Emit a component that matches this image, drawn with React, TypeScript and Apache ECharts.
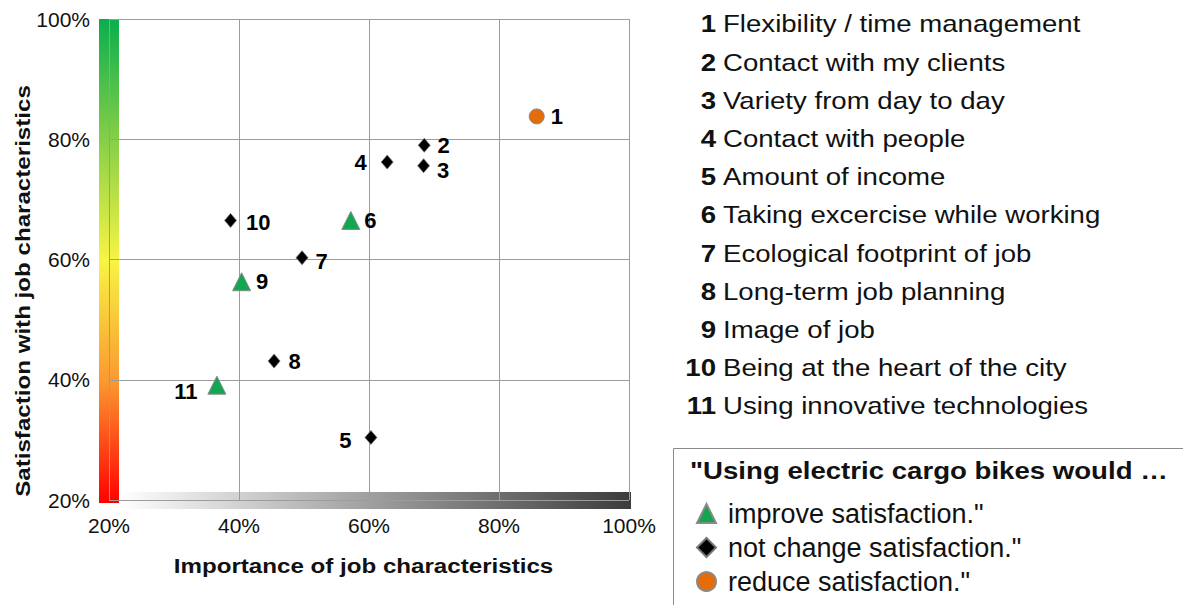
import React, { useEffect, useRef } from "react";
import * as echarts from "echarts";

const FONT = "'Liberation Sans', Arial, Helvetica, sans-serif";
// the typeface is set slightly wide
const WIDE = 1.15;

// Job characteristics, numbered 1..11
const characteristics = [
  "Flexibility / time management",
  "Contact with my clients",
  "Variety from day to day",
  "Contact with people",
  "Amount of income",
  "Taking excercise while working",
  "Ecological footprint of job",
  "Long-term job planning",
  "Image of job",
  "Being at the heart of the city",
  "Using innovative technologies",
];

// [importance %, satisfaction %, item number]
const improvePoints = [
  [57.2, 66.5, 6],
  [40.4, 56.3, 9],
  [36.6, 39.1, 11],
];
const unchangedPoints = [
  [68.5, 79.0, 2],
  [68.4, 75.6, 3],
  [62.8, 76.2, 4],
  [60.3, 30.4, 5],
  [49.7, 60.3, 7],
  [45.4, 43.1, 8],
  [38.7, 66.5, 10],
];
const reducePoints = [[85.8, 83.8, 1]];

const axisMin = 20;
const axisMax = 100;
const axisStep = 20;

const seriesNames = [
  'improve satisfaction."',
  'not change satisfaction."',
  'reduce satisfaction."',
];
const legendTitle = '"Using electric cargo bikes would \u2026';
const xTitle = "Importance of job characteristics";
const yTitle = "Satisfaction with job characteristics";

// where each number label sits next to its marker
const labelPlacement: Record<number, { position: string; distance: number; dy: number }> = {
  1: { position: "right", distance: 6, dy: 0 },
  2: { position: "right", distance: 7, dy: 0 },
  3: { position: "right", distance: 7, dy: 5 },
  4: { position: "left", distance: 14, dy: 0 },
  5: { position: "left", distance: 13, dy: 3 },
  6: { position: "right", distance: 4, dy: 0 },
  7: { position: "right", distance: 7, dy: 4 },
  8: { position: "right", distance: 8, dy: 0 },
  9: { position: "right", distance: 5, dy: 0 },
  10: { position: "right", distance: 9, dy: 2 },
  11: { position: "left", distance: 10, dy: 6 },
};

const toData = (pts: number[][]) =>
  pts.map((p) => {
    const lp = labelPlacement[p[2]];
    return {
      value: p,
      label: { position: lp.position, distance: lp.distance, offset: [0, lp.dy] },
    };
  });

const numberLabel = {
  show: true,
  formatter: (p: any) => String(p.value[2]),
  fontFamily: FONT,
  fontSize: 22,
  fontWeight: "bold",
  color: "#000",
};

const wideText = (
  text: string,
  x: number,
  y: number,
  fontSize: number,
  bold: boolean,
  align: string,
  rotation = 0
) => ({
  type: "text",
  x,
  y,
  rotation,
  scaleX: WIDE,
  style: {
    text,
    align,
    verticalAlign: "middle",
    fontFamily: FONT,
    fontSize,
    fontWeight: bold ? "bold" : "normal",
    fill: "#111",
  },
});

export default function App() {
  const ref = useRef<HTMLDivElement>(null);

  useEffect(() => {
    if (!ref.current) return;
    const chart = echarts.init(ref.current, undefined, { renderer: "svg" });

    const axisCommon = {
      type: "value",
      min: axisMin,
      max: axisMax,
      interval: axisStep,
      axisLine: { show: false },
      axisTick: { show: false },
      splitLine: { show: true, lineStyle: { color: "#9c9c9c", width: 1 } },
      axisLabel: {
        formatter: "{value}%",
        fontFamily: FONT,
        fontSize: 21,
        color: "#111",
      },
    };

    chart.setOption({
      animation: false,
      grid: { left: 109, right: 554, top: 19, bottom: 105, containLabel: false },
      xAxis: { ...axisCommon, axisLabel: { ...axisCommon.axisLabel, margin: 15 } },
      yAxis: { ...axisCommon, axisLabel: { ...axisCommon.axisLabel, margin: 19 } },
      legend: {
        orient: "vertical",
        left: 691,
        top: 495,
        itemWidth: 19,
        itemHeight: 19,
        itemGap: 7,
        data: seriesNames,
        textStyle: {
          fontFamily: FONT,
          fontSize: 27,
          color: "#111",
          padding: [0, 0, 0, 7],
        },
      },
      series: [
        {
          name: seriesNames[0],
          type: "scatter",
          symbol: "triangle",
          symbolSize: 18,
          itemStyle: { color: "#12a650", borderColor: "#8a8a8a", borderWidth: 1, opacity: 1 },
          label: numberLabel,
          data: toData(improvePoints),
          z: 3,
        },
        {
          name: seriesNames[1],
          type: "scatter",
          symbol: "diamond",
          symbolSize: [12, 14],
          itemStyle: { color: "#000000", borderColor: "#777777", borderWidth: 0.8, opacity: 1 },
          label: numberLabel,
          data: toData(unchangedPoints),
          z: 3,
        },
        {
          name: seriesNames[2],
          type: "scatter",
          symbol: "circle",
          symbolSize: 15,
          itemStyle: { color: "#e46c0a", borderColor: "#8a8a8a", borderWidth: 1, opacity: 1 },
          label: numberLabel,
          data: toData(reducePoints),
          z: 3,
        },
      ],
    });

    const [xLo, yLo] = chart.convertToPixel({ gridIndex: 0 }, [axisMin, axisMin]) as number[];
    const [xHi, yHi] = chart.convertToPixel({ gridIndex: 0 }, [axisMax, axisMax]) as number[];

    const listTop = 24;
    const listStep = 38.2;
    const listItems: any[] = [];
    characteristics.forEach((name, i) => {
      const y = listTop + i * listStep;
      listItems.push(wideText(String(i + 1), 716, y, 24, true, "right"));
      listItems.push(wideText(name, 723, y, 24, false, "left"));
    });

    chart.setOption({
      graphic: {
        elements: [
          // satisfaction colour scale along the y axis
          {
            type: "rect",
            z: -1,
            shape: { x: xLo - 10, y: yHi, width: 20, height: yLo - yHi + 3 },
            style: {
              fill: new echarts.graphic.LinearGradient(0, 0, 0, 1, [
                { offset: 0, color: "#0aae4e" },
                { offset: 0.25, color: "#86cf48" },
                { offset: 0.5, color: "#f8f444" },
                { offset: 0.75, color: "#fa9830" },
                { offset: 1, color: "#ff0000" },
              ]),
            },
          },
          // importance grey scale along the x axis
          {
            type: "rect",
            z: -1,
            shape: { x: xLo + 10, y: yLo - 8, width: xHi - xLo - 8, height: 17 },
            style: {
              fill: new echarts.graphic.LinearGradient(0, 0, 1, 0, [
                { offset: 0, color: "#ffffff" },
                { offset: 1, color: "#3c3c3c" },
              ]),
            },
          },
          wideText(xTitle, 363.5, 566, 21, true, "center"),
          wideText(yTitle, 23, 291, 21, true, "center", Math.PI / 2),
          ...listItems,
          // legend frame and heading
          {
            type: "rect",
            shape: { x: 673.5, y: 448.5, width: 600, height: 200 },
            style: { fill: "none", stroke: "#8a8a8a", lineWidth: 1 },
          },
          wideText(legendTitle, 690, 471, 24, true, "left"),
        ],
      },
    });

    return () => chart.dispose();
  }, []);

  return (
    <div
      ref={ref}
      style={{ position: "absolute", left: 0, top: 0, width: 1183, height: 605 }}
    />
  );
}
